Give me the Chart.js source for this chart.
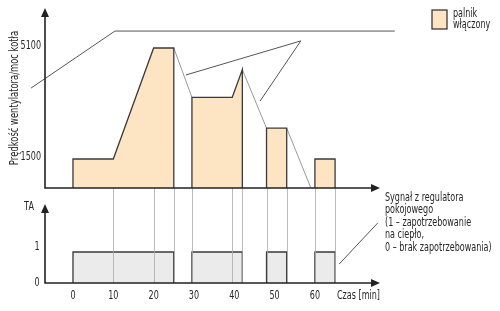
<!DOCTYPE html>
<html>
<head>
<meta charset="utf-8">
<script src="https://cdn.jsdelivr.net/npm/chart.js@4.4.0/dist/chart.umd.min.js"></script>
<style>
  html, body { margin: 0; padding: 0; background: #fff; }
</style>
</head>
<body>
<canvas id="wykres" width="500" height="311"></canvas>
<script>
// etykiety osi czasu [min]
const czasTicks = [0, 10, 20, 30, 40, 50, 60];
// etykiety osi prędkości wentylatora
const predkoscTicks = [1500, 5100];
const predkoscBaza = 560; // wartość na linii osi (schemat)
// etykiety osi TA
const sygnalTicks = [0, 1];

// palnik włączony - okresy [czas, prędkość]
const palnik1 = [[0, 560], [0, 1500], [10, 1500], [20, 5100], [25, 5100], [25, 560]];
const palnik2 = [[29.5, 560], [29.5, 3500], [39.5, 3500], [42, 4400], [42, 560]];
const palnik3 = [[48, 560], [48, 2500], [53, 2500], [53, 560]];
const palnik4 = [[60, 560], [60, 1500], [65, 1500], [65, 560]];
// spadek prędkości gdy palnik wyłączony
const przejscia = [
  [[25, 5100], [29.5, 3500]],
  [[42, 4400], [48, 2500]],
  [[53, 2500], [59, 560]]
];
// sygnał z regulatora [start, koniec] dla TA = 1
const sygnal = [[0, 25], [29.5, 42], [48, 53], [60, 65]];
// pionowe linie pomocnicze
const znaczniki = [10, 20, 25, 29.5, 39.5, 42, 48, 53, 60, 65];
// linie odnośników
const odnosnik1 = [[-10.4, 3800], [10.4, 5650], [79.8, 5650]];
const odnosnik2 = [[28, 4225], [56.5, 5330], [46.4, 3380]];
const odnosnikTA = [[66, 0.61], [75.6, 1.94]];

const FONT = "'DejaVu Sans', sans-serif";
const KOLOR_TXT = '#262626';
const PALNIK_FILL = '#fde5c4';
const PALNIK_LINE = '#3a3a3a';

const pts = arr => arr.map(p => ({ x: p[0], y: p[1] }));

const datasets = [];

// okresy pracy palnika
[palnik1, palnik2, palnik3, palnik4].forEach(b => {
  datasets.push({
    data: pts(b), yAxisID: 'yTop',
    borderColor: PALNIK_LINE, borderWidth: 1.3,
    backgroundColor: PALNIK_FILL,
    fill: { value: predkoscBaza },
    pointRadius: 0, tension: 0
  });
});

// przejścia (szara linia)
przejscia.forEach(p => {
  datasets.push({
    data: pts(p), yAxisID: 'yTop',
    borderColor: '#999', borderWidth: 1,
    fill: false, pointRadius: 0
  });
});

// sygnał TA
sygnal.forEach(s => {
  datasets.push({
    data: pts([[s[0], 0], [s[0], 1], [s[1], 1], [s[1], 0]]), yAxisID: 'yBot',
    borderColor: PALNIK_LINE, borderWidth: 1.3,
    backgroundColor: '#ebebeb',
    fill: 'origin',
    pointRadius: 0
  });
});

// odnośniki
datasets.push({ data: pts(odnosnik1), yAxisID: 'yTop', borderColor: '#555', borderWidth: 1, fill: false, pointRadius: 0 });
datasets.push({ data: pts(odnosnik2), yAxisID: 'yTop', borderColor: '#555', borderWidth: 1, fill: false, pointRadius: 0 });
datasets.push({ data: pts(odnosnikTA), yAxisID: 'yBot', borderColor: '#555', borderWidth: 1, fill: false, pointRadius: 0 });

// strzałka
function strzalka(ctx, x, y, dir) {
  ctx.beginPath();
  if (dir === 'up') {
    ctx.moveTo(x, y); ctx.lineTo(x - 4, y + 9); ctx.lineTo(x + 4, y + 9);
  } else {
    ctx.moveTo(x, y); ctx.lineTo(x - 9, y - 4); ctx.lineTo(x - 9, y + 4);
  }
  ctx.closePath();
  ctx.fill();
}

// tekst zwężony (czcionka typu narrow)
function tekst(ctx, s, x, y, szer) {
  ctx.save();
  ctx.translate(x, y);
  ctx.scale(szer, 1);
  ctx.fillText(s, 0, 0);
  ctx.restore();
}

const rysunek = {
  id: 'rysunek',
  afterDatasetsDraw(chart) {
    const ctx = chart.ctx;
    const x = chart.scales.x, yT = chart.scales.yTop, yB = chart.scales.yBot;
    // linie pomocnicze
    ctx.save();
    ctx.strokeStyle = '#aaa';
    ctx.lineWidth = 0.8;
    znaczniki.forEach(t => {
      const px = Math.round(x.getPixelForValue(t)) + 0.5;
      ctx.beginPath();
      ctx.moveTo(px, yT.getPixelForValue(predkoscBaza));
      ctx.lineTo(px, yB.getPixelForValue(0));
      ctx.stroke();
    });
    ctx.restore();
  },
  afterDraw(chart) {
    const ctx = chart.ctx;
    const x = chart.scales.x, yT = chart.scales.yTop, yB = chart.scales.yBot;
    const osY = 45, koniecX = 380;
    const baseT = yT.getPixelForValue(predkoscBaza);
    const baseB = yB.getPixelForValue(0);
    const W = 0.7;
    ctx.save();
    ctx.strokeStyle = '#222';
    ctx.fillStyle = '#222';
    ctx.lineWidth = 1.6;
    // osie górne
    ctx.beginPath();
    ctx.moveTo(osY, 14); ctx.lineTo(osY, baseT); ctx.lineTo(koniecX - 6, baseT);
    ctx.stroke();
    strzalka(ctx, osY, 8, 'up');
    strzalka(ctx, koniecX, baseT, 'right');
    // osie dolne
    ctx.beginPath();
    ctx.moveTo(osY, 210); ctx.lineTo(osY, baseB); ctx.lineTo(koniecX - 6, baseB);
    ctx.stroke();
    strzalka(ctx, osY, 204, 'up');
    strzalka(ctx, koniecX, baseB, 'right');

    // teksty
    ctx.fillStyle = KOLOR_TXT;
    ctx.font = '11.5px ' + FONT;
    ctx.textBaseline = 'middle';
    ctx.textAlign = 'right';
    predkoscTicks.forEach(v => tekst(ctx, String(v), 41, yT.getPixelForValue(v) - 2, W));
    ctx.textAlign = 'center';
    sygnalTicks.forEach(v => tekst(ctx, String(v), 37, yB.getPixelForValue(v) - (v ? 5 : 0), W));
    tekst(ctx, 'TA', 29, 207, W);
    czasTicks.forEach(t => tekst(ctx, String(t), x.getPixelForValue(t), 296, W));
    ctx.textAlign = 'left';
    tekst(ctx, 'Czas [min]', 337, 296, W);

    // legenda
    ctx.fillStyle = PALNIK_FILL;
    ctx.fillRect(432, 10, 15, 19);
    ctx.strokeStyle = PALNIK_LINE;
    ctx.lineWidth = 1.3;
    ctx.strokeRect(432, 10, 15, 19);
    ctx.fillStyle = KOLOR_TXT;
    tekst(ctx, 'palnik', 453, 14, W);
    tekst(ctx, 'włączony', 453, 25, W);

    // opis sygnału
    const opis = ['Sygnał z regulatora', 'pokojowego', '(1 – zapotrzebowanie', 'na ciepło,', '0 – brak zapotrzebowania)'];
    opis.forEach((s, i) => tekst(ctx, s, 385, 198 + i * 12.5, W));

    // tytuł osi Y
    ctx.translate(15, 98);
    ctx.rotate(-Math.PI / 2);
    ctx.textAlign = 'center';
    ctx.font = '11.5px ' + FONT;
    tekst(ctx, 'Prędkość wentylatora/moc kotła', 0, 0, 0.73);
    ctx.restore();
  }
};

new Chart(document.getElementById('wykres'), {
  type: 'line',
  data: { datasets: datasets },
  options: {
    responsive: false,
    animation: false,
    events: [],
    layout: { padding: 0 },
    scales: {
      x: { type: 'linear', min: -18.1, max: 105.9, display: false },
      yTop: { type: 'linear', min: -3430, max: 6657, display: false },
      yBot: { type: 'linear', min: -0.903, max: 9.129, display: false }
    },
    plugins: {
      legend: { display: false },
      tooltip: { enabled: false },
      title: { display: false }
    }
  },
  plugins: [rysunek]
});
</script>
</body>
</html>
